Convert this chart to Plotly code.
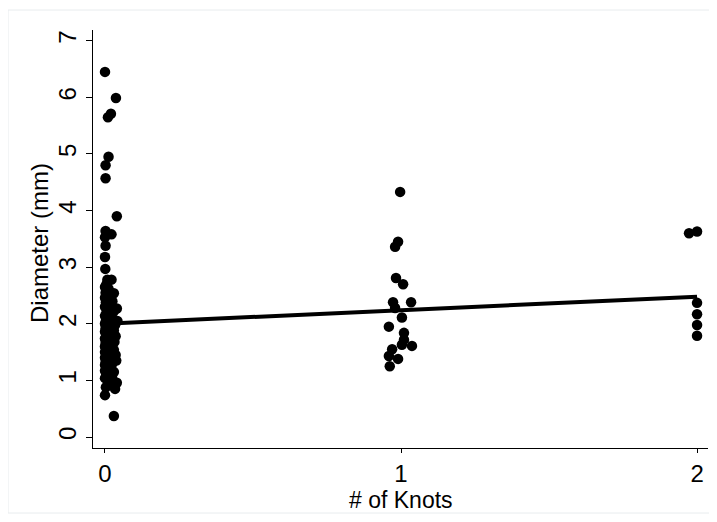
import plotly.graph_objects as go

# Jittered knot counts (x) and diameters (y)
knots_0 = [0.000, 0.037, 0.010, 0.020, 0.012, 0.002, 0.002, 0.040, 0.002, 0.022,
           0.000, 0.002, 0.000, 0.001, 0.008, 0.022, 0.005, 0.000, 0.012, 0.030,
           0.002, 0.018, 0.000, 0.008, 0.025, 0.003, 0.040, 0.015, 0.000, 0.010,
           0.030, 0.005, 0.020, 0.000, 0.012, 0.042, 0.028, 0.003, 0.018, 0.000,
           0.034, 0.008, 0.022, 0.002, 0.014, 0.030, 0.000, 0.010, 0.020, 0.004,
           0.036, 0.016, 0.000, 0.026, 0.008, 0.032, 0.002, 0.018, 0.010, 0.000,
           0.024, 0.006, 0.030, 0.014, 0.000, 0.020, 0.036, 0.004, 0.012, 0.026,
           0.000, 0.018, 0.038, 0.008, 0.002, 0.028, 0.014, 0.000, 0.022, 0.006,
           0.012, 0.000, 0.030, 0.018, 0.004, 0.024, 0.000, 0.010, 0.040, 0.032,
           0.003, 0.034, 0.000, 0.030]
diam_0 = [6.45, 5.99, 5.65, 5.71, 4.95, 4.80, 4.57, 3.90, 3.64, 3.58,
          3.53, 3.38, 3.18, 2.97, 2.78, 2.78, 2.70, 2.65, 2.62, 2.54,
          2.55, 2.50, 2.46, 2.42, 2.40, 2.38, 2.27, 2.33, 2.30, 2.26,
          2.22, 2.20, 2.16, 2.14, 2.12, 2.05, 2.08, 2.05, 2.03, 2.00,
          1.98, 1.97, 1.94, 1.92, 1.90, 1.88, 1.86, 1.84, 1.82, 1.80,
          1.78, 1.76, 1.74, 1.72, 1.70, 1.68, 1.66, 1.64, 1.62, 1.60,
          1.58, 1.56, 1.54, 1.52, 1.50, 1.48, 1.45, 1.46, 1.43, 1.42,
          1.40, 1.38, 1.35, 1.36, 1.32, 1.33, 1.30, 1.27, 1.26, 1.24,
          1.20, 1.17, 1.15, 1.12, 1.10, 1.05, 1.04, 1.00, 0.96, 0.92,
          0.88, 0.85, 0.74, 0.37]

knots_1 = [0.997, 0.990, 0.980, 0.983, 1.007, 0.973, 1.034, 0.980, 1.003,
           0.959, 1.010, 1.010, 1.003, 1.037, 0.970, 0.959, 0.990, 0.962]
diam_1 = [4.33, 3.45, 3.36, 2.81, 2.70, 2.38, 2.38, 2.28, 2.11,
          1.95, 1.84, 1.72, 1.63, 1.61, 1.55, 1.43, 1.38, 1.25]

knots_2 = [1.973, 2.000, 2.000, 2.000, 2.000, 2.000]
diam_2 = [3.60, 3.63, 2.37, 2.17, 1.98, 1.79]

# Linear fit endpoints
fit_x = [0, 2]
fit_y = [2.00, 2.48]

x_ticks = [0, 1, 2]
y_ticks = [0, 1, 2, 3, 4, 5, 6, 7]

x_title = "# of Knots"
y_title = "Diameter (mm)"

all_x = knots_0 + knots_1 + knots_2
all_y = diam_0 + diam_1 + diam_2

FONT = "Liberation Sans, Arial, Helvetica, sans-serif"

fig = go.Figure()
fig.add_trace(go.Scatter(x=fit_x, y=fit_y, mode="lines",
                         line=dict(color="black", width=4), showlegend=False))
fig.add_trace(go.Scatter(x=all_x, y=all_y, mode="markers",
                         marker=dict(color="black", size=10.5, line=dict(width=0)),
                         showlegend=False))

fig.update_layout(
    width=709, height=514,
    margin=dict(l=85, r=9, t=22, b=74),
    paper_bgcolor="white", plot_bgcolor="white",
    font=dict(family=FONT, color="black", size=20),
    shapes=[dict(type="rect", xref="paper", yref="paper",
                 x0=(8 - 93) / 615, x1=(710 - 93) / 615,
                 y0=(448 - 513) / 418, y1=(448 - 10) / 418,
                 line=dict(color="#e8ecee", width=1), fillcolor="rgba(0,0,0,0)",
                 layer="below")],
    annotations=[
        dict(text=x_title, xref="paper", yref="paper", x=0.5, y=(448 - 500) / 418,
             xanchor="center", yanchor="middle", showarrow=False,
             font=dict(size=23, family=FONT, color="black")),
        dict(text=y_title, xref="paper", yref="paper", x=(39 - 93) / 615, y=(448 - 243) / 418,
             xanchor="center", yanchor="middle", textangle=-90, showarrow=False,
             font=dict(size=24, family=FONT, color="black")),
    ],
)
fig.update_xaxes(range=[-0.0405, 2.037], tickvals=x_ticks, ticktext=[str(v) for v in x_ticks],
                 showline=True, linecolor="black", linewidth=1,
                 ticks="outside", ticklen=4, tickcolor="black", tickwidth=1,
                 showgrid=False, zeroline=False,
                 tickfont=dict(size=24), ticklabelstandoff=0)
fig.update_yaxes(range=[-0.194, 7.19], tickvals=y_ticks, ticktext=[str(v) for v in y_ticks],
                 showline=True, linecolor="black", linewidth=1,
                 ticks="outside", ticklen=6, tickcolor="black", tickwidth=1,
                 showgrid=False, zeroline=False,
                 tickangle=-90, tickfont=dict(size=24), ticklabelstandoff=0)

fig.write_html("out.html")
